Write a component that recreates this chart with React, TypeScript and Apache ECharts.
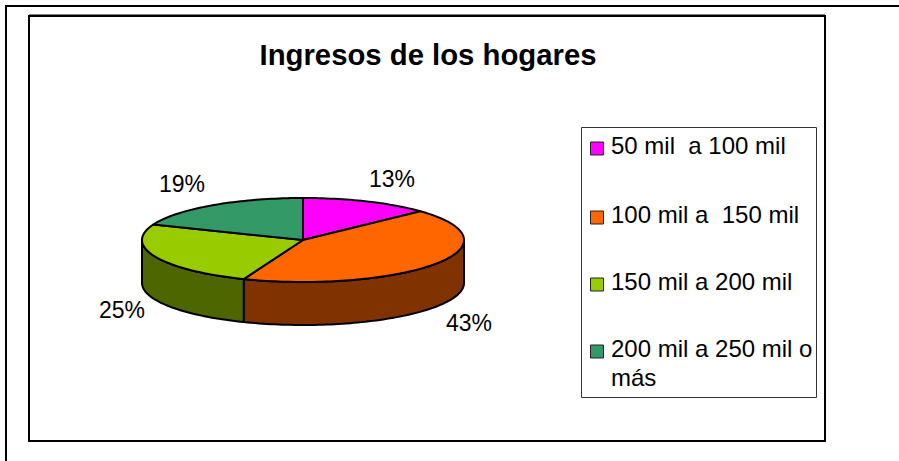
import React, { useEffect, useRef } from "react";
import * as echarts from "echarts";

const title = "Ingresos de los hogares";
const categories = ["50 mil  a 100 mil", "100 mil a  150 mil", "150 mil a 200 mil", "200 mil a 250 mil o\nmás"];
const values = [13, 43, 25, 19];
const topColors = ["#FF00FF", "#FF6600", "#99CC00", "#339966"];
const sideColors = ["#800080", "#803300", "#4D6600", "#1A4D33"];

const FONT = '"Liberation Sans", Arial, sans-serif';
const CX = 303;
const CY = 240;
const RX = 161;
const RY = 42;
const DEPTH = 43;

const total = values.reduce((a, b) => a + b, 0);
const angleAt = (i: number) => (values.slice(0, i).reduce((a, b) => a + b, 0) / total) * Math.PI * 2;
const rim = (a: number, dy = 0): [number, number] => [CX + RX * Math.sin(a), CY - RY * Math.cos(a) + dy];
const arc = (a0: number, a1: number, dy = 0) => {
  const n = Math.max(2, Math.ceil(Math.abs(a1 - a0) * 40));
  const pts: [number, number][] = [];
  for (let k = 0; k <= n; k++) pts.push(rim(a0 + ((a1 - a0) * k) / n, dy));
  return pts;
};

const renderTop = (params: any, api: any) => {
  const i = params.dataIndex;
  return {
    type: "polygon",
    shape: { points: [[CX, CY], ...arc(angleAt(i), angleAt(i + 1))] },
    style: { fill: topColors[i], stroke: "#000", lineWidth: 2, lineJoin: "round" },
  };
};

const renderSide = (params: any, api: any) => {
  const i = params.dataIndex;
  const a0 = Math.max(angleAt(i), Math.PI / 2);
  const a1 = Math.min(angleAt(i + 1), (Math.PI * 3) / 2);
  if (a1 <= a0) return { type: "group", children: [] };
  return {
    type: "polygon",
    shape: { points: [...arc(a0, a1), ...arc(a1, a0, DEPTH)] },
    style: { fill: sideColors[i], stroke: "#000", lineWidth: 2, lineJoin: "round" },
  };
};

const labelAnchors: [number, number][] = [[392, 179], [469, 323], [122, 310], [182, 184]];
const legendRows = [146, 215, 282, 349];

const pageText = (x: number, y: number, text: string, align = "left", extra: any = {}) => ({
  type: "text",
  x,
  y,
  z: 20,
  style: { text, x: 0, y: 0, fill: "#000", font: `23px ${FONT}`, align, verticalAlign: "middle", ...extra },
});
const legendFont = { font: `24px ${FONT}` };

export default function App() {
  const ref = useRef<HTMLDivElement>(null);
  useEffect(() => {
    document.body.style.margin = "0";
    const chart = echarts.init(ref.current!, undefined, { renderer: "svg" });
    chart.setOption({
      animation: false,
      backgroundColor: "#fff",
      series: [
        {
          type: "custom",
          name: "lados",
          coordinateSystem: "none",
          renderItem: renderSide,
          data: values,
          z: 2,
          silent: true,
        },
        {
          type: "custom",
          name: "Ingresos",
          coordinateSystem: "none",
          renderItem: renderTop,
          data: values,
          z: 3,
          silent: true,
        },
      ],
      graphic: [
        { type: "line", z: 1, shape: { x1: 6, y1: 6, x2: 899, y2: 6 }, style: { stroke: "#000", lineWidth: 2 } },
        { type: "line", z: 1, shape: { x1: 6, y1: 5, x2: 6, y2: 461 }, style: { stroke: "#000", lineWidth: 2 } },
        { type: "rect", z: 1, shape: { x: 29, y: 16, width: 796, height: 425 }, style: { fill: "none", stroke: "#000", lineWidth: 2 } },
        { type: "line", z: 1, shape: { x1: 29, y1: 14.5, x2: 825, y2: 14.5 }, style: { stroke: "#808080", lineWidth: 1 } },
        { type: "rect", z: 1, shape: { x: 581.5, y: 127.5, width: 235, height: 270 }, style: { fill: "none", stroke: "#333", lineWidth: 1 } },
        pageText(428, 54, title, "center", { font: `bold 29.3px ${FONT}` }),
        ...values.map((v, i) => pageText(labelAnchors[i][0], labelAnchors[i][1], `${v}%`, "center")),
        ...categories.map((c, i) => ({
          type: "rect",
          z: 10,
          shape: { x: 590.5, y: legendRows[i] - 4, width: 13, height: 13 },
          style: { fill: topColors[i], stroke: "#222", lineWidth: 1 },
        })),
        ...categories.map((c, i) => pageText(611, legendRows[i] - 1, c.split("\n")[0], "left", legendFont)),
        pageText(611, 377, categories[3].split("\n")[1], "left", legendFont),
      ],
    });
    return () => chart.dispose();
  }, []);
  return <div ref={ref} style={{ position: "absolute", left: 0, top: 0, width: 899, height: 461 }} />;
}
